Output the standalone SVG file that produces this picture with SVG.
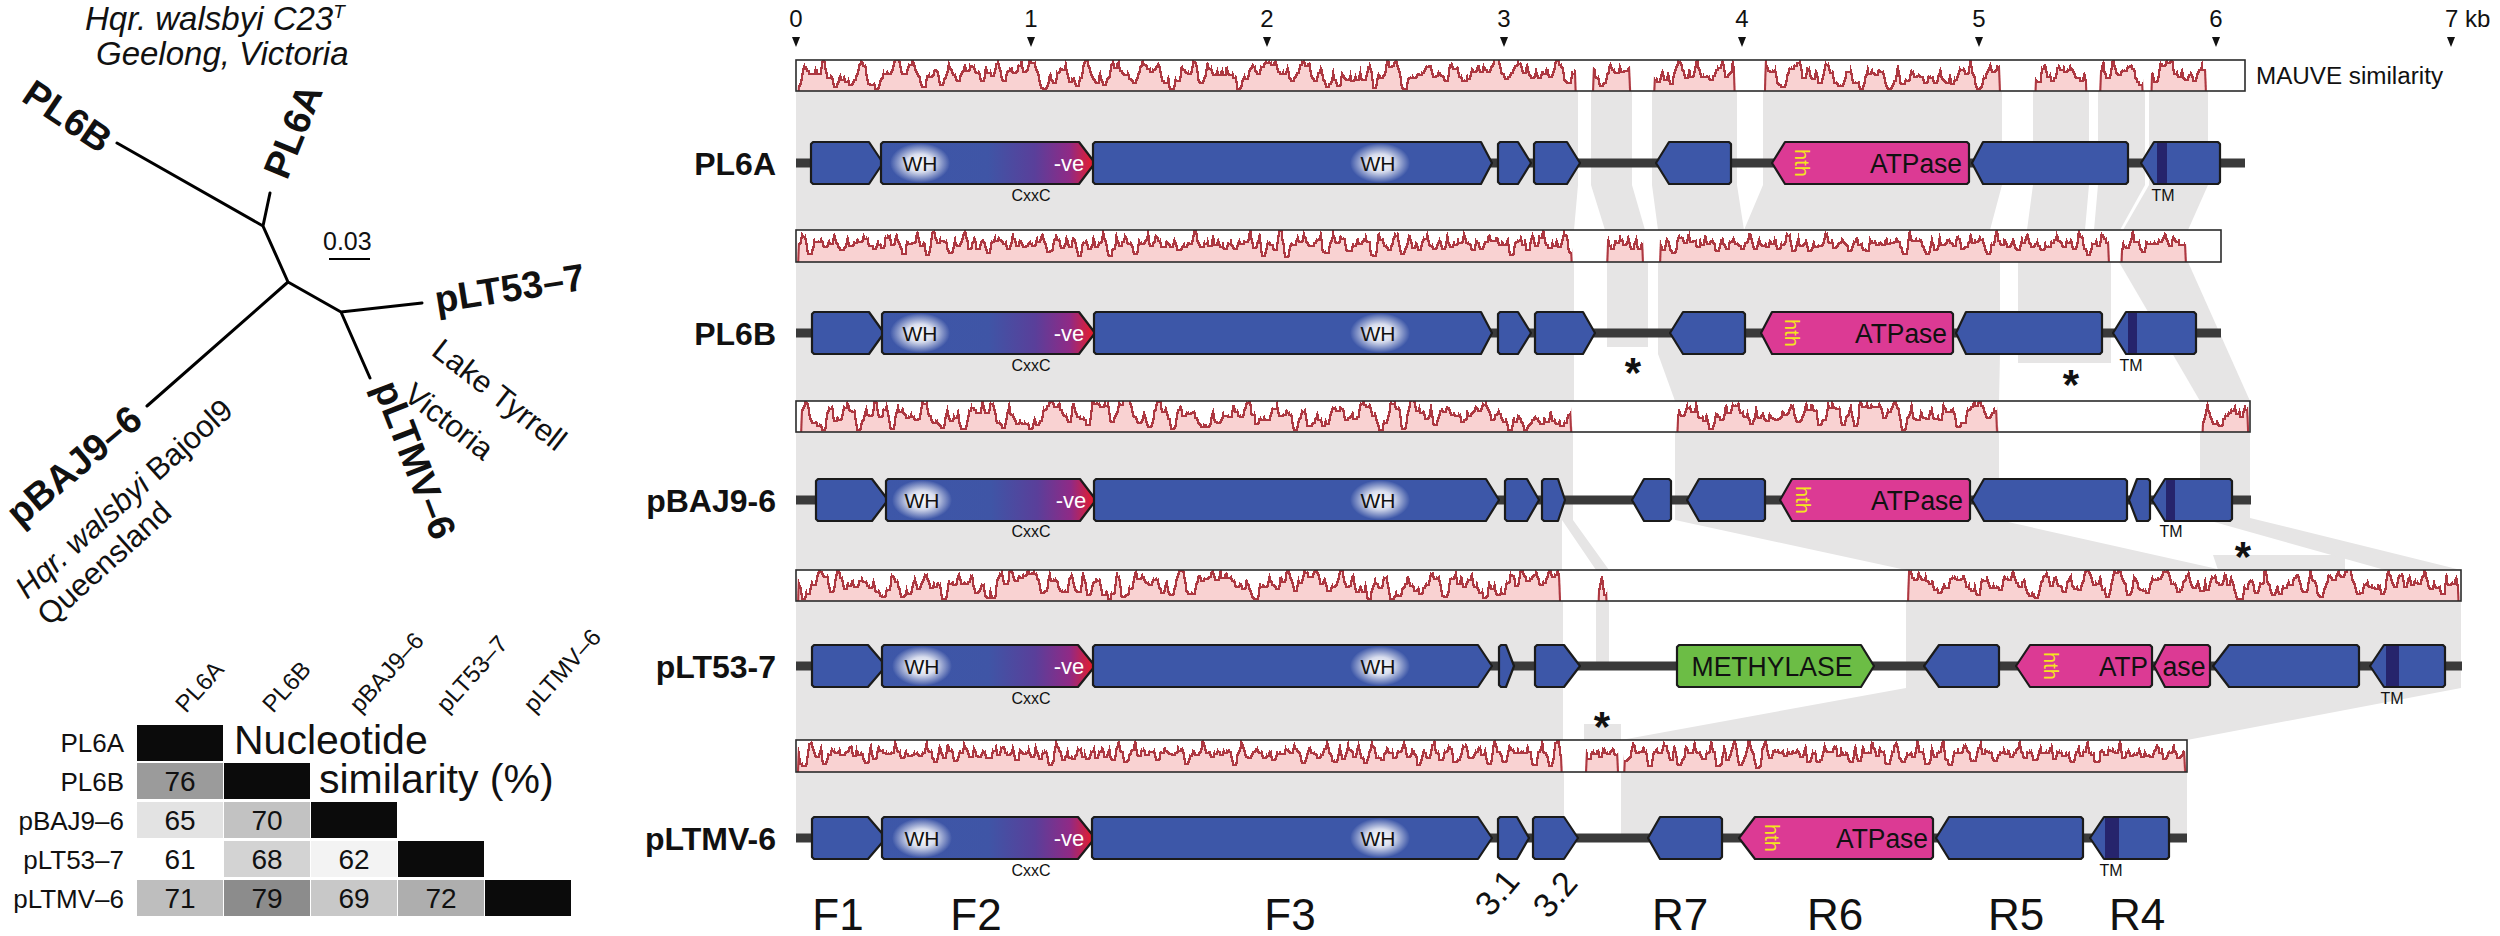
<svg xmlns="http://www.w3.org/2000/svg" width="2500" height="936" viewBox="0 0 2500 936">
<style>
text{font-family:"Liberation Sans",Arial,sans-serif;fill:#111}
.band{fill:#e6e5e5}
.bar{fill:#fff}
.frame{fill:none;stroke:#2b2b2b;stroke-width:1.6}
.seg{fill:#f9d2d2}
.bb{stroke:#3a3a3a;stroke-width:9}
.g{stroke:#1b1b1b;stroke-width:2.2;stroke-linejoin:round}
.b{fill:#3d57a8}
.p{fill:#dc3a94}
.gr{fill:#6cbd45}
.gd{fill:url(#g2grad)}
.tm{fill:#26246c}
.wh{font-size:21px;text-anchor:middle}
.ve{font-size:22px;fill:#fff;text-anchor:middle}
.sm{font-size:16px;text-anchor:middle}
.hth{font-size:20px;fill:#f4e61c;text-anchor:middle;dominant-baseline:central}
.atp{font-size:27px;text-anchor:end}
.row{font-size:32px;font-weight:bold;text-anchor:end}
.tick{font-size:24px;text-anchor:middle}
.bot{font-size:44px;text-anchor:middle}
.ast{font-size:42px;font-weight:bold;text-anchor:middle}
.tl{font-size:38px;font-weight:bold}
.loc{font-size:31px}
.mx{font-size:26px;text-anchor:end}
.hd{font-size:24px}
.num{font-size:28px;text-anchor:middle}
.tree{stroke:#000;stroke-width:3;fill:none;stroke-linecap:round}
.glow{fill:url(#glow)}
</style>
<defs>
<linearGradient id="g2grad" x1="0" y1="0" x2="1" y2="0">
<stop offset="0" stop-color="#3d57a8"/>
<stop offset="0.5" stop-color="#3f55a6"/>
<stop offset="0.72" stop-color="#5a3f9a"/>
<stop offset="0.88" stop-color="#8f2a86"/>
<stop offset="1" stop-color="#ee1c24"/>
</linearGradient>
<radialGradient id="glow">
<stop offset="0" stop-color="#fff" stop-opacity="1"/>
<stop offset="0.45" stop-color="#fff" stop-opacity="0.8"/>
<stop offset="1" stop-color="#fff" stop-opacity="0"/>
</radialGradient>
<filter id="wig" filterUnits="userSpaceOnUse" x="780" y="40" width="1700" height="760" color-interpolation-filters="sRGB">
<feTurbulence type="fractalNoise" baseFrequency="0.13 0.004" numOctaves="3" seed="11" result="n"/>
<feColorMatrix in="n" type="matrix" values="0 0 0 0 0.5  1.6 0 0 0 -0.3  0 0 0 0 0  0 0 0 0 1" result="m"/>
<feDisplacementMap in="SourceGraphic" in2="m" scale="34" xChannelSelector="R" yChannelSelector="G" result="d"/>
<feMorphology in="d" operator="erode" radius="2" result="e"/>
<feComposite in="d" in2="e" operator="out" result="edge"/>
<feFlood flood-color="#ad3841" result="red"/>
<feComposite in="red" in2="edge" operator="in" result="line"/>
<feMerge><feMergeNode in="d"/><feMergeNode in="line"/></feMerge>
</filter>
<clipPath id="barclip">
<rect x="796" y="60" width="1449" height="31"/>
<rect x="796" y="230" width="1425" height="32"/>
<rect x="796" y="401" width="1454" height="31"/>
<rect x="796" y="570" width="1665" height="31"/>
<rect x="796" y="740" width="1391" height="32"/>
</clipPath>
</defs>

<g id="connectors">
<g id="bands12">
<polygon class="band" points="796,91 1578,91 1578,185 1574,230 796,230"/>
<polygon class="band" points="1591,91 1632,91 1632,185 1645,230 1605,230 1591,185"/>
<polygon class="band" points="1652,91 1737,91 1737,185 1744,230 1658,230 1652,185"/>
<polygon class="band" points="1763,91 2002,91 2002,185 1990,230 1744,230 1763,185"/>
<polygon class="band" points="2033,91 2089,91 2089,185 2085,230 2027,230 2033,185"/>
<polygon class="band" points="2098,91 2145,91 2145,185 2120,230 2094,230 2098,185"/>
<polygon class="band" points="2149,91 2208,91 2208,185 2188,230 2123,230 2149,185"/>
</g>
<g id="bands23">
<polygon class="band" points="796,262 1574,262 1574,401 796,401"/>
<polygon class="band" points="1607,262 1648,262 1648,347 1607,347"/>
<polygon class="band" points="1658,262 2000,262 2000,354 1999,401 1675,401 1658,354"/>
<polygon class="band" points="2018,262 2111,262 2111,363 2018,363"/>
<polygon class="band" points="2119,262 2188,262 2250,401 2200,401"/>
</g>
<g id="bands34">
<polygon class="band" points="796,432 1573,432 1573,520 1609,570 1596,570 1562,520 1562,570 796,570"/>
<polygon class="band" points="1675,432 1999,432 1999,520 2222,570 1906,570 1675,520"/>
<polygon class="band" points="2213,555 2345,555 2345,570 2218,570"/>
<polygon class="band" points="2200,432 2250,432 2250,518 2461,570 2385,570 2200,518"/>
</g>
<g id="bands45">
<polygon class="band" points="796,601 1563,601 1563,740 796,740"/>
<polygon class="band" points="1596,601 1609,601 1609,662 1596,662"/>
<polygon class="band" points="1584,724 1621,724 1621,740 1584,740"/>
<polygon class="band" points="1906,601 2461,601 2461,688 2187,740 1621,740 1906,688"/>
</g>
<g id="bands5">
<polygon class="band" points="796,772 1564,772 1564,835 796,835"/>
<polygon class="band" points="1621,772 2187,772 2187,835 1621,835"/>
</g>
</g>

<g id="mauve-bars">
<rect class="bar" x="796" y="60" width="1449" height="31"/>
<rect class="bar" x="796" y="230" width="1425" height="32"/>
<rect class="bar" x="796" y="401" width="1454" height="31"/>
<rect class="bar" x="796" y="570" width="1665" height="31"/>
<rect class="bar" x="796" y="740" width="1391" height="32"/>
<g clip-path="url(#barclip)">
<g filter="url(#wig)">
<polygon class="seg" points="796,121 798,71 1576,71 1578,121"/>
<polygon class="seg" points="1591,121 1593,71 1630,71 1632,121"/>
<polygon class="seg" points="1652,121 1654,71 1735,71 1737,121"/>
<polygon class="seg" points="1763,121 1765,71 2000,71 2002,121"/>
<polygon class="seg" points="2033,121 2035,71 2087,71 2089,121"/>
<polygon class="seg" points="2098,121 2100,71 2143,71 2145,121"/>
<polygon class="seg" points="2149,121 2151,71 2206,71 2208,121"/>
<polygon class="seg" points="796,292 798,241 1572,241 1574,292"/>
<polygon class="seg" points="1605,292 1607,241 1643,241 1645,292"/>
<polygon class="seg" points="1658,292 1660,241 2109,241 2111,292"/>
<polygon class="seg" points="2119,292 2121,241 2186,241 2188,292"/>
<polygon class="seg" points="799,462 801,412 1571,412 1573,462"/>
<polygon class="seg" points="1675,462 1677,412 1997,412 1999,462"/>
<polygon class="seg" points="2200,462 2202,412 2248,412 2250,462"/>
<polygon class="seg" points="796,631 798,581 1560,581 1562,631"/>
<polygon class="seg" points="1596,631 1598,581 1607,581 1609,631"/>
<polygon class="seg" points="1906,631 1908,581 2459,581 2461,631"/>
<polygon class="seg" points="796,802 798,751 1562,751 1564,802"/>
<polygon class="seg" points="1584,802 1586,751 1618,751 1620,802"/>
<polygon class="seg" points="1622,802 1624,751 2185,751 2187,802"/>
</g>
</g>
<rect class="frame" x="796" y="60" width="1449" height="31"/>
<rect class="frame" x="796" y="230" width="1425" height="32"/>
<rect class="frame" x="796" y="401" width="1454" height="31"/>
<rect class="frame" x="796" y="570" width="1665" height="31"/>
<rect class="frame" x="796" y="740" width="1391" height="32"/>
<text x="2256" y="84" font-size="23" textLength="187" lengthAdjust="spacingAndGlyphs">MAUVE similarity</text>
</g>

<g id="axis">
<g fill="#111">
<polygon points="792,37 800,37 796,47"/>
<polygon points="1027,37 1035,37 1031,47"/>
<polygon points="1263,37 1271,37 1267,47"/>
<polygon points="1500,37 1508,37 1504,47"/>
<polygon points="1738,37 1746,37 1742,47"/>
<polygon points="1975,37 1983,37 1979,47"/>
<polygon points="2212,37 2220,37 2216,47"/>
<polygon points="2447,37 2455,37 2451,47"/>
</g>
<text class="tick" x="796" y="27">0</text>
<text class="tick" x="1031" y="27">1</text>
<text class="tick" x="1267" y="27">2</text>
<text class="tick" x="1504" y="27">3</text>
<text class="tick" x="1742" y="27">4</text>
<text class="tick" x="1979" y="27">5</text>
<text class="tick" x="2216" y="27">6</text>
<text x="2445" y="27" font-size="24">7 kb</text>
</g>

<g id="row-PL6A">
<line class="bb" x1="796" y1="163" x2="2245" y2="163"/>
<polygon class="g b" points="811,144 813,142 869,142 883,163 869,184 813,184 811,182"/>
<polygon class="g gd" points="881,144 883,142 1079,142 1095,163 1079,184 883,184 881,182"/>
<polygon class="g b" points="1093,144 1095,142 1481,142 1492,163 1481,184 1095,184 1093,182"/>
<polygon class="g b" points="1498,144 1500,142 1518,142 1531,163 1518,184 1500,184 1498,182"/>
<polygon class="g b" points="1534,144 1536,142 1567,142 1580,163 1567,184 1536,184 1534,182"/>
<polygon class="g b" points="1656,163 1669,142 1729,142 1731,144 1731,182 1729,184 1669,184"/>
<polygon class="g p" points="1772,163 1785,142 1967,142 1969,144 1969,182 1967,184 1785,184"/>
<polygon class="g b" points="1972,163 1983,142 2126,142 2128,144 2128,182 2126,184 1983,184"/>
<polygon class="g b" points="2141,163 2154,142 2218,142 2220,144 2220,182 2218,184 2154,184"/>
<rect class="tm" x="2157" y="143" width="10" height="40"/>
<ellipse class="glow" cx="920" cy="163" rx="30" ry="20"/>
<ellipse class="glow" cx="1380" cy="163" rx="30" ry="20"/>
<text class="wh" x="920" y="171">WH</text>
<text class="wh" x="1378" y="171">WH</text>
<text class="ve" x="1069" y="171">-ve</text>
<text class="sm" x="1031" y="201">CxxC</text>
<text class="sm" x="2163" y="201">TM</text>
<text class="hth" transform="rotate(90 1802 163)" x="1802" y="163">hth</text>
<text class="atp" x="1962" y="173" textLength="92" lengthAdjust="spacingAndGlyphs">ATPase</text>
<text class="row" x="776" y="175">PL6A</text>
</g>

<g id="row-PL6B">
<line class="bb" x1="796" y1="333" x2="2221" y2="333"/>
<polygon class="g b" points="812,314 814,312 869,312 884,333 869,354 814,354 812,352"/>
<polygon class="g gd" points="882,314 884,312 1079,312 1095,333 1079,354 884,354 882,352"/>
<polygon class="g b" points="1094,314 1096,312 1481,312 1492,333 1481,354 1096,354 1094,352"/>
<polygon class="g b" points="1498,314 1500,312 1518,312 1531,333 1518,354 1500,354 1498,352"/>
<polygon class="g b" points="1535,314 1537,312 1583,312 1595,333 1583,354 1537,354 1535,352"/>
<polygon class="g b" points="1670,333 1683,312 1743,312 1745,314 1745,352 1743,354 1683,354"/>
<polygon class="g p" points="1761,333 1772,312 1951,312 1953,314 1953,352 1951,354 1772,354"/>
<polygon class="g b" points="1956,333 1966,312 2100,312 2102,314 2102,352 2100,354 1966,354"/>
<polygon class="g b" points="2113,333 2126,312 2194,312 2196,314 2196,352 2194,354 2126,354"/>
<rect class="tm" x="2128" y="313" width="9" height="40"/>
<ellipse class="glow" cx="920" cy="333" rx="30" ry="20"/>
<ellipse class="glow" cx="1380" cy="333" rx="30" ry="20"/>
<text class="wh" x="920" y="341">WH</text>
<text class="wh" x="1378" y="341">WH</text>
<text class="ve" x="1069" y="341">-ve</text>
<text class="sm" x="1031" y="371">CxxC</text>
<text class="sm" x="2131" y="371">TM</text>
<text class="hth" transform="rotate(90 1792 333)" x="1792" y="333">hth</text>
<text class="atp" x="1947" y="343" textLength="92" lengthAdjust="spacingAndGlyphs">ATPase</text>
<text class="row" x="776" y="345">PL6B</text>
<text class="ast" x="1633" y="387">*</text>
<text class="ast" x="2071" y="399">*</text>
</g>

<g id="row-pBAJ9-6">
<line class="bb" x1="796" y1="500" x2="2251" y2="500"/>
<polygon class="g b" points="816,481 818,479 872,479 888,500 872,521 818,521 816,519"/>
<polygon class="g gd" points="886,481 888,479 1080,479 1096,500 1080,521 888,521 886,519"/>
<polygon class="g b" points="1094,481 1096,479 1486,479 1499,500 1486,521 1096,521 1094,519"/>
<polygon class="g b" points="1505,481 1507,479 1527,479 1539,500 1527,521 1507,521 1505,519"/>
<polygon class="g b" points="1542,481 1544,479 1558,479 1565,500 1558,521 1544,521 1542,519"/>
<polygon class="g b" points="1632,500 1644,479 1669,479 1671,481 1671,519 1669,521 1644,521"/>
<polygon class="g b" points="1687,500 1699,479 1763,479 1765,481 1765,519 1763,521 1699,521"/>
<polygon class="g p" points="1780,500 1792,479 1968,479 1970,481 1970,519 1968,521 1792,521"/>
<polygon class="g b" points="1972,500 1984,479 2125,479 2127,481 2127,519 2125,521 1984,521"/>
<polygon class="g b" points="2129,500 2137,479 2148,479 2150,481 2150,519 2148,521 2137,521"/>
<polygon class="g b" points="2152,500 2165,479 2230,479 2232,481 2232,519 2230,521 2165,521"/>
<rect class="tm" x="2166" y="480" width="9" height="40"/>
<ellipse class="glow" cx="922" cy="500" rx="30" ry="20"/>
<ellipse class="glow" cx="1380" cy="500" rx="30" ry="20"/>
<text class="wh" x="922" y="508">WH</text>
<text class="wh" x="1378" y="508">WH</text>
<text class="ve" x="1071" y="508">-ve</text>
<text class="sm" x="1031" y="537">CxxC</text>
<text class="sm" x="2171" y="537">TM</text>
<text class="hth" transform="rotate(90 1803 500)" x="1803" y="500">hth</text>
<text class="atp" x="1963" y="510" textLength="92" lengthAdjust="spacingAndGlyphs">ATPase</text>
<text class="row" x="776" y="512">pBAJ9-6</text>
<text class="ast" x="2243" y="571">*</text>
</g>

<g id="row-pLT53-7">
<line class="bb" x1="796" y1="666" x2="2462" y2="666"/>
<polygon class="g b" points="812,647 814,645 868,645 886,666 868,687 814,687 812,685"/>
<polygon class="g gd" points="882,647 884,645 1078,645 1095,666 1078,687 884,687 882,685"/>
<polygon class="g b" points="1093,647 1095,645 1478,645 1492,666 1478,687 1095,687 1093,685"/>
<polygon class="g b" points="1499,647 1501,645 1506,645 1514,666 1506,687 1501,687 1499,685"/>
<polygon class="g b" points="1535,647 1537,645 1564,645 1580,666 1564,687 1537,687 1535,685"/>
<polygon class="g gr" points="1677,647 1679,645 1861,645 1874,666 1861,687 1679,687 1677,685"/>
<polygon class="g b" points="1924,666 1939,645 1997,645 1999,647 1999,685 1997,687 1939,687"/>
<polygon class="g p" points="2016,666 2030,645 2150,645 2152,647 2152,685 2150,687 2030,687"/>
<polygon class="g p" points="2154,666 2165,645 2208,645 2210,647 2210,685 2208,687 2165,687"/>
<polygon class="g b" points="2213,666 2229,645 2357,645 2359,647 2359,685 2357,687 2229,687"/>
<polygon class="g b" points="2370,666 2384,645 2443,645 2445,647 2445,685 2443,687 2384,687"/>
<rect class="tm" x="2386" y="646" width="13" height="40"/>
<ellipse class="glow" cx="922" cy="666" rx="30" ry="20"/>
<ellipse class="glow" cx="1380" cy="666" rx="30" ry="20"/>
<text class="wh" x="922" y="674">WH</text>
<text class="wh" x="1378" y="674">WH</text>
<text class="ve" x="1069" y="674">-ve</text>
<text class="sm" x="1031" y="704">CxxC</text>
<text class="sm" x="2392" y="704">TM</text>
<text class="hth" transform="rotate(90 2051 666)" x="2051" y="666">hth</text>
<text x="1772" y="676" font-size="27" text-anchor="middle" textLength="161" lengthAdjust="spacingAndGlyphs">METHYLASE</text>
<text class="atp" x="2148" y="676" textLength="49" lengthAdjust="spacingAndGlyphs">ATP</text>
<text x="2184" y="676" font-size="27" text-anchor="middle" textLength="43" lengthAdjust="spacingAndGlyphs">ase</text>
<text class="row" x="776" y="678">pLT53-7</text>
<text class="ast" x="1602" y="741">*</text>
</g>

<g id="row-pLTMV-6">
<line class="bb" x1="796" y1="838" x2="2187" y2="838"/>
<polygon class="g b" points="812,819 814,817 868,817 886,838 868,859 814,859 812,857"/>
<polygon class="g gd" points="882,819 884,817 1078,817 1095,838 1078,859 884,859 882,857"/>
<polygon class="g b" points="1092,819 1094,817 1478,817 1492,838 1478,859 1094,859 1092,857"/>
<polygon class="g b" points="1498,819 1500,817 1517,817 1529,838 1517,859 1500,859 1498,857"/>
<polygon class="g b" points="1533,819 1535,817 1564,817 1578,838 1564,859 1535,859 1533,857"/>
<polygon class="g b" points="1648,838 1660,817 1720,817 1722,819 1722,857 1720,859 1660,859"/>
<polygon class="g p" points="1739,838 1755,817 1931,817 1933,819 1933,857 1931,859 1755,859"/>
<polygon class="g b" points="1936,838 1949,817 2081,817 2083,819 2083,857 2081,859 1949,859"/>
<polygon class="g b" points="2090,838 2104,817 2167,817 2169,819 2169,857 2167,859 2104,859"/>
<rect class="tm" x="2105" y="818" width="14" height="40"/>
<ellipse class="glow" cx="922" cy="838" rx="30" ry="20"/>
<ellipse class="glow" cx="1380" cy="838" rx="30" ry="20"/>
<text class="wh" x="922" y="846">WH</text>
<text class="wh" x="1378" y="846">WH</text>
<text class="ve" x="1069" y="846">-ve</text>
<text class="sm" x="1031" y="876">CxxC</text>
<text class="sm" x="2111" y="876">TM</text>
<text class="hth" transform="rotate(90 1772 838)" x="1772" y="838">hth</text>
<text class="atp" x="1928" y="848" textLength="92" lengthAdjust="spacingAndGlyphs">ATPase</text>
<text class="row" x="776" y="850">pLTMV-6</text>
</g>

<g id="gene-labels">
<text class="bot" x="838" y="930">F1</text>
<text class="bot" x="976" y="930">F2</text>
<text class="bot" x="1290" y="930">F3</text>
<text font-size="34" text-anchor="middle" transform="translate(1506,900) rotate(-50)">3.1</text>
<text font-size="34" text-anchor="middle" transform="translate(1564,902) rotate(-50)">3.2</text>
<text class="bot" x="1680" y="930">R7</text>
<text class="bot" x="1835" y="930">R6</text>
<text class="bot" x="2016" y="930">R5</text>
<text class="bot" x="2137" y="930">R4</text>
</g>

<g id="tree">
<path class="tree" d="M117,143 L263,226 M270,193 L263,226 L288,282 L147,406 M288,282 L341,312 L422,303 M341,312 L370,378"/>
<text class="tl" transform="translate(20,100) rotate(34)">PL6B</text>
<text class="tl" transform="translate(287,181) rotate(-68)">PL6A</text>
<text class="tl" transform="translate(437,313) rotate(-9)">pLT53–7</text>
<text class="tl" transform="translate(20,528) rotate(-40)">pBAJ9–6</text>
<text class="tl" transform="translate(373,387) rotate(69)">pLTMV–6</text>
<text x="85" y="30" font-size="33" font-style="italic">Hqr. walsbyi C23<tspan dy="-12" font-size="19">T</tspan></text>
<text x="96" y="65" font-size="33" font-style="italic">Geelong, Victoria</text>
<text x="323" y="250" font-size="25">0.03</text>
<line x1="329" y1="259" x2="370" y2="259" stroke="#000" stroke-width="2"/>
<text class="loc" transform="translate(430,354) rotate(38)">Lake Tyrrell</text>
<text class="loc" transform="translate(402,398) rotate(38)">Victoria</text>
<text class="loc" transform="translate(27,600) rotate(-42)"><tspan font-style="italic">Hqr. walsbyi</tspan> Bajool9</text>
<text class="loc" transform="translate(49,627) rotate(-42)">Queensland</text>
</g>

<g id="matrix">
<rect x="137" y="725" width="86" height="36" fill="#0b0b0b"/>
<rect x="137" y="763" width="86" height="36" fill="#9b9b9b"/>
<rect x="224" y="763" width="86" height="36" fill="#0b0b0b"/>
<rect x="137" y="802" width="86" height="36" fill="#e3e3e3"/>
<rect x="224" y="802" width="86" height="36" fill="#c2c2c2"/>
<rect x="311" y="802" width="86" height="36" fill="#0b0b0b"/>
<rect x="137" y="841" width="86" height="36" fill="#ffffff"/>
<rect x="224" y="841" width="86" height="36" fill="#d3d3d3"/>
<rect x="311" y="841" width="86" height="36" fill="#f3f3f3"/>
<rect x="398" y="841" width="86" height="36" fill="#0b0b0b"/>
<rect x="137" y="880" width="86" height="36" fill="#bebebe"/>
<rect x="224" y="880" width="86" height="36" fill="#8c8c8c"/>
<rect x="311" y="880" width="86" height="36" fill="#c8c8c8"/>
<rect x="398" y="880" width="86" height="36" fill="#aeaeae"/>
<rect x="485" y="880" width="86" height="36" fill="#0b0b0b"/>
<text class="num" x="180" y="791">76</text>
<text class="num" x="180" y="830">65</text>
<text class="num" x="267" y="830">70</text>
<text class="num" x="180" y="869">61</text>
<text class="num" x="267" y="869">68</text>
<text class="num" x="354" y="869">62</text>
<text class="num" x="180" y="908">71</text>
<text class="num" x="267" y="908">79</text>
<text class="num" x="354" y="908">69</text>
<text class="num" x="441" y="908">72</text>
<text class="mx" x="124" y="752">PL6A</text>
<text class="mx" x="124" y="791">PL6B</text>
<text class="mx" x="124" y="830">pBAJ9–6</text>
<text class="mx" x="124" y="869">pLT53–7</text>
<text class="mx" x="124" y="908">pLTMV–6</text>
<text class="hd" transform="translate(186,714) rotate(-48)">PL6A</text>
<text class="hd" transform="translate(273,714) rotate(-48)">PL6B</text>
<text class="hd" transform="translate(360,714) rotate(-48)">pBAJ9–6</text>
<text class="hd" transform="translate(447,714) rotate(-48)">pLT53–7</text>
<text class="hd" transform="translate(534,714) rotate(-48)">pLTMV–6</text>
<text x="234" y="754" font-size="41">Nucleotide</text>
<text x="319" y="793" font-size="41">similarity (%)</text>
</g>
</svg>
